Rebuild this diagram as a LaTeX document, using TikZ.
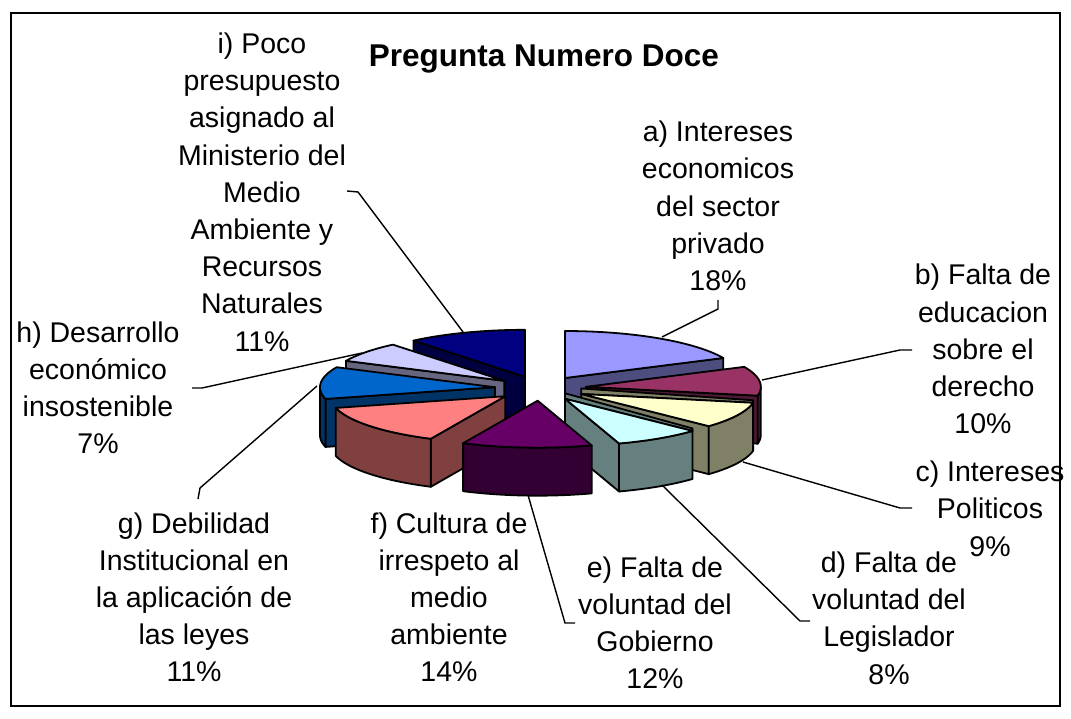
\documentclass[tikz,border=0pt]{standalone}
\usepackage{fontspec}
\setmainfont{Liberation Sans}
\definecolor{ca}{HTML}{9999FF}\definecolor{sa}{HTML}{4D4D80}
\definecolor{cb}{HTML}{993366}\definecolor{sb}{HTML}{4D1A33}
\definecolor{cc}{HTML}{FFFFCC}\definecolor{sc}{HTML}{808066}
\definecolor{cd}{HTML}{CCFFFF}\definecolor{sd}{HTML}{668080}
\definecolor{ce}{HTML}{660066}\definecolor{se}{HTML}{330033}
\definecolor{cf}{HTML}{FF8080}\definecolor{sf}{HTML}{804040}
\definecolor{cg}{HTML}{0066CC}\definecolor{sg}{HTML}{003366}
\definecolor{ch}{HTML}{CCCCFF}\definecolor{sh}{HTML}{666680}
\definecolor{ci}{HTML}{000080}\definecolor{si}{HTML}{000040}
\def\pcx{540.5}\def\pcy{388.4}\def\prx{175}\def\pry{47}\def\pex{45.7}\def\pey{12.3}\def\pdd{48}
\newcommand{\setP}[2]{\pgfmathsetmacro{\slmid}{(#1+#2)/2}%
 \pgfmathsetmacro{\spx}{\pcx+\pex*sin(\slmid)}%
 \pgfmathsetmacro{\spy}{\pcy-\pey*cos(\slmid)}}
\newcommand{\radface}[2]{\filldraw[face, fill=#2] (\spx,\spy) -- ({\spx+\prx*sin(#1)},{\spy-\pry*cos(#1)}) -- ({\spx+\prx*sin(#1)},{\spy-\pry*cos(#1)+\pdd}) -- (\spx,{\spy+\pdd}) -- cycle;}
\newcommand{\outerside}[3]{\filldraw[face, fill=#3] plot[domain=#1:#2,samples=40] ({\spx+\prx*sin(\x)},{\spy-\pry*cos(\x)}) -- plot[domain=#2:#1,samples=40] ({\spx+\prx*sin(\x)},{\spy-\pry*cos(\x)+\pdd}) -- cycle;}
\newcommand{\topface}[3]{\filldraw[face, fill=#3] (\spx,\spy) -- plot[domain=#1:#2,samples=50] ({\spx+\prx*sin(\x)},{\spy-\pry*cos(\x)}) -- cycle;}
\newcommand{\lip}[2]{\filldraw[face, fill=#2] (\spx,\spy) -- ({\spx+\prx*sin(#1)},{\spy-\pry*cos(#1)}) -- ({\spx+\prx*sin(#1)},{\spy-\pry*cos(#1)-2.5}) -- (\spx,{\spy-5.5}) -- cycle;}
\newcommand{\lbltab}[1]{\begin{tabular}[t]{@{}c@{}}#1\end{tabular}}
\begin{document}
\begin{tikzpicture}[x=1pt,y=-1pt,
  face/.style={draw=black, line width=1.8pt, line join=round},
  lbl/.style={anchor=base, inner sep=0pt, font=\fontsize{28.5}{37.2}\selectfont},
  leader/.style={draw=black, line width=1.4pt}]
\useasboundingbox (0,0) rectangle (1071,719);
\fill[white] (0,0) rectangle (1071,719);
\draw[line width=2pt] (10.5,13.5) rectangle (1060,706);
% title
\node[anchor=base, inner sep=0pt, font=\fontsize{31.5}{36}\selectfont\bfseries] (title) at (544,67) {Pregunta Numero Doce};
% pie slices, back to front
\setP{320.4}{360}\radface{320.4}{si}\topface{320.4}{360}{ci}
\setP{0}{64.8}\radface{64.8}{sa}\topface{0}{64.8}{ca}
\setP{295.2}{320.4}\radface{295.2}{sh}\topface{295.2}{320.4}{ch}
\setP{64.8}{100.8}\radface{100.8}{sb}\outerside{90}{100.8}{sb}\topface{64.8}{100.8}{cb}
\setP{255.6}{295.2}\radface{255.6}{sg}\outerside{255.6}{270}{sg}\topface{255.6}{295.2}{cg}
\setP{100.8}{133.2}\lip{100.8}{sc}\radface{133.2}{sc}\outerside{100.8}{133.2}{sc}\topface{100.8}{133.2}{cc}
\setP{205.2}{255.6}\radface{205.2}{sf}\outerside{205.2}{255.6}{sf}\topface{205.2}{255.6}{cf}
\setP{133.2}{162}\lip{133.2}{sd}\radface{162}{sd}\outerside{133.2}{162}{sd}\topface{133.2}{162}{cd}
\setP{162}{205.2}\outerside{162}{205.2}{se}\topface{162}{205.2}{ce}
% labels
\node[lbl] (li) at (262,53.5) {\lbltab{i) Poco\\presupuesto\\asignado al\\Ministerio del\\Medio\\Ambiente y\\Recursos\\Naturales\\11\%}};
\node[lbl] (la) at (718,141.7) {\lbltab{a) Intereses\\economicos\\del sector\\privado\\18\%}};
\node[lbl] (lb) at (983,285) {\lbltab{b) Falta de\\educacion\\sobre el\\derecho\\10\%}};
\node[lbl] (lc) at (990,481.7) {\lbltab{c) Intereses\\Politicos\\9\%}};
\node[lbl] (ld) at (889,572.5) {\lbltab{d) Falta de\\voluntad del\\Legislador\\8\%}};
\node[lbl] (le) at (655,577) {\lbltab{e) Falta de\\voluntad del\\Gobierno\\12\%}};
\node[lbl] (lf) at (449,533) {\lbltab{f) Cultura de\\irrespeto al\\medio\\ambiente\\14\%}};
\node[lbl] (lg) at (194,533) {\lbltab{g) Debilidad\\Institucional en\\la aplicación de\\las leyes\\11\%}};
\node[lbl] (lh) at (98,342) {\lbltab{h) Desarrollo\\económico\\insostenible\\7\%}};
% leader points
\coordinate (pi) at (463,332); \coordinate (qi) at (358,192); \coordinate (ri) at (347,191);
\coordinate (pa) at (662,337); \coordinate (qa) at (718,309); \coordinate (ra) at (718,300);
\coordinate (pb) at (762,380); \coordinate (qb) at (900,350); \coordinate (rb) at (912,350);
\coordinate (pc) at (743,462); \coordinate (qc) at (900,508); \coordinate (rc) at (912,508);
\coordinate (pd) at (662,485); \coordinate (qd) at (800,621); \coordinate (rd) at (810,621);
\coordinate (pe) at (528,495); \coordinate (qe) at (565,623); \coordinate (re) at (575,623);
\coordinate (pg) at (317,386); \coordinate (qg) at (200,488); \coordinate (rg) at (198,499);
\coordinate (ph) at (362,353); \coordinate (qh) at (202,388); \coordinate (rh) at (192,388);
\foreach \s in {i,a,b,c,d,e,g,h}{\draw[leader] (p\s) -- (q\s) -- (r\s);}
\end{tikzpicture}
\end{document}
